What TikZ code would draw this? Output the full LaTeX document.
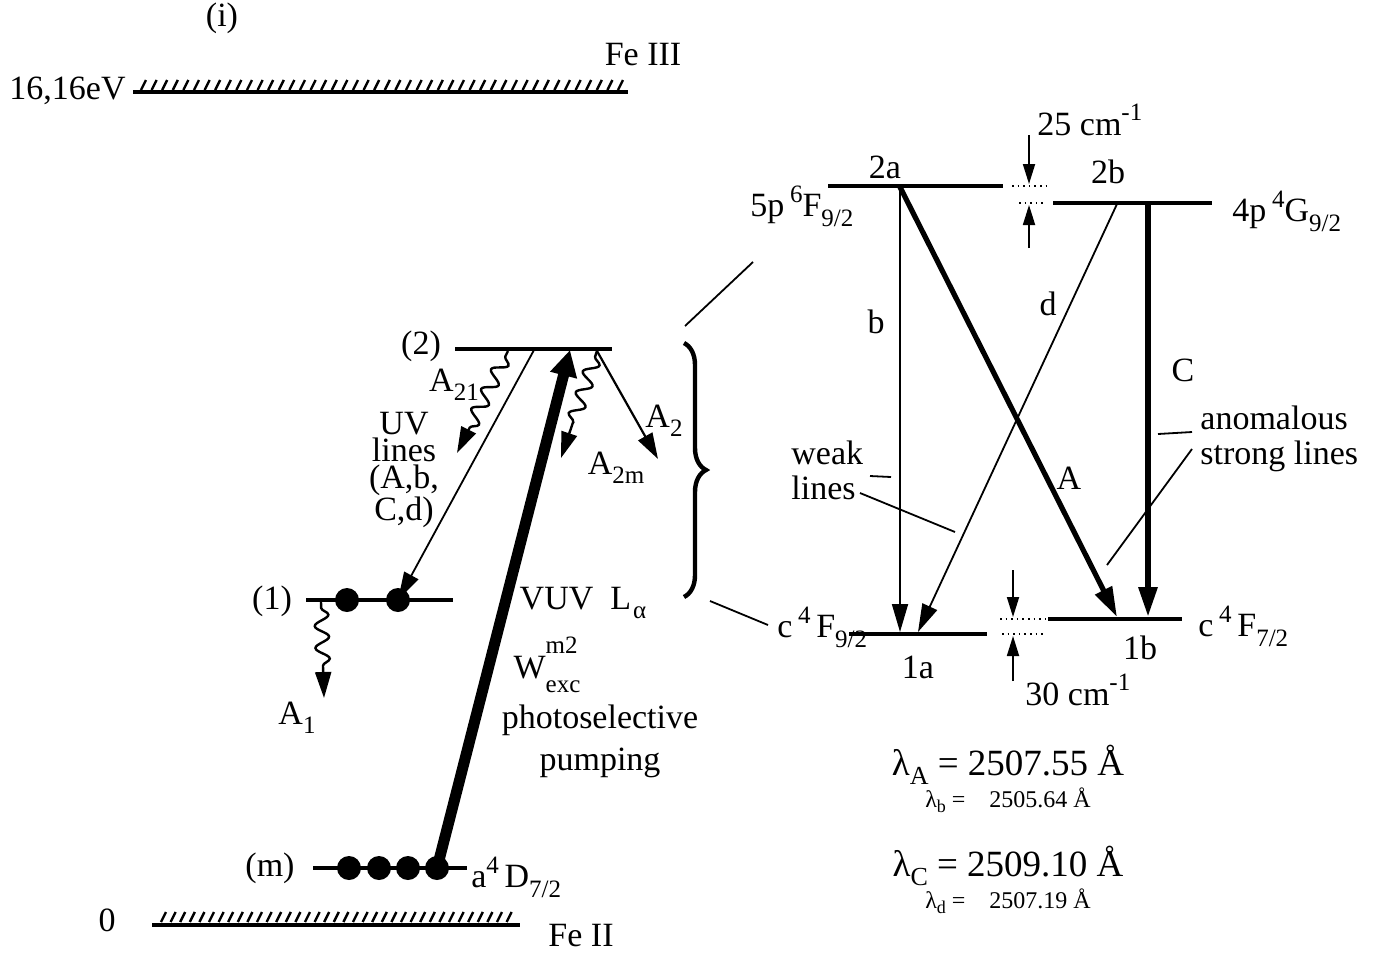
\documentclass[tikz,border=0pt]{standalone}
\usepackage{fontspec}
\setmainfont{Liberation Serif}
\usetikzlibrary{arrows.meta,decorations.pathmorphing,decorations.pathreplacing}
\newcommand\lsub[1]{\raisebox{-0.6ex}{\fontsize{12.5}{12}\selectfont #1}}
\newcommand\lsup[1]{\raisebox{0.95ex}{\fontsize{12.5}{12}\selectfont #1}}
\begin{document}
\begin{tikzpicture}[x=0.5pt,y=-0.5pt,
  lbl/.style={font=\fontsize{17}{13.5}\selectfont, inner sep=0pt},
  big/.style={font=\fontsize{18.5}{18}\selectfont, inner sep=0pt},
  small/.style={font=\fontsize{12}{12}\selectfont, inner sep=0pt},
  level/.style={line width=2pt},
  thinarr/.style={line width=0.9pt, -{Triangle[length=14pt,width=8pt]}},
  thickarr/.style={line width=2.6pt, -{Triangle[length=15pt,width=9pt]}},
  wavy/.style={line width=1.2pt, decorate, decoration={snake, amplitude=3.5pt, segment length=11pt, pre length=3pt, post length=14pt}, -{Triangle[length=13pt,width=8pt]}},
  hatch/.style={line width=1.2pt},
  leader/.style={line width=0.9pt},
  dotted line/.style={line width=0.8pt, dotted},
  pop/.style={circle, fill=black, inner sep=0pt, minimum size=12pt},
]
\useasboundingbox (0,0) rectangle (1391,954);

% ---------- left diagram ----------
\node[lbl] (ion) at (222,18) {(i)};
% Fe III limit
\coordinate (i1) at (133,92); \coordinate (i2) at (628,92);
\draw[level] (i1) -- (i2);
\foreach \x in {141,151.6,...,622} \draw[hatch] (\x,90) -- (\x+5,80);
\node[lbl, anchor=east] (eV) at (126,91) {16,16eV};
\node[lbl] (fe3) at (643,55) {Fe III};

% Fe II ground
\coordinate (g1) at (152,925); \coordinate (g2) at (520,925);
\draw[level] (g1) -- (g2);
\foreach \x in {161,170.6,...,514} \draw[hatch] (\x,922) -- (\x+5,912);
\node[lbl] (zero) at (107,920) {0};
\node[lbl] (fe2) at (581,936) {Fe II};

% level m
\coordinate (m1) at (313,868); \coordinate (m2) at (467,868);
\draw[level] (m1) -- (m2);
\node[lbl] (mlab) at (270,868) {(m)};
\node[pop] (d1) at (349,868) {};
\node[pop] (d2) at (379,868) {};
\node[pop] (d3) at (408,868) {};
\node[pop] (d4) at (437,868) {};
\node[lbl, anchor=west] (aD) at (471,877) {a\lsup{4}\,D\lsub{7/2}};

% level 1
\coordinate (o1) at (306,600); \coordinate (o2) at (453,600);
\draw[level] (o1) -- (o2);
\node[lbl] (onelab) at (272,601) {(1)};
\node[pop] (e1) at (347,600) {};
\node[pop] (e2) at (398,600) {};
\coordinate (a1s) at (321,602); \coordinate (a1e) at (324,698);
\draw[wavy] (a1s) -- (a1e);
\node[lbl] (A1) at (297,718) {A\lsub{1}};

% level 2
\coordinate (t1) at (455,349); \coordinate (t2) at (612,349);
\draw[level] (t1) -- (t2);
\node[lbl] (twolab) at (421,346) {(2)};

% pumping
\coordinate (pumptop) at (570,350);
\draw[line width=5.5pt, -{Triangle[length=13pt,width=13pt]}] (d4.center) -- (pumptop);

% UV lines arrow
\coordinate (uvs) at (534,350);
\draw[thinarr] (uvs) -- (e2.center);

% wavy decays from 2
\coordinate (a21s) at (508,351); \coordinate (a21e) at (457,453);
\draw[wavy] (a21s) -- (a21e);
\coordinate (a2ms) at (597,351); \coordinate (a2me) at (561,458);
\draw[wavy] (a2ms) -- (a2me);
\coordinate (a2s) at (597,351); \coordinate (a2e) at (658,459);
\draw[line width=1.1pt, -{Triangle[length=13pt,width=8pt]}] (a2s) -- (a2e);

\node[lbl] (A21) at (454,385) {A\lsub{21}};
\node[lbl] (A2m) at (616,468) {A\lsub{2m}};
\node[lbl] (A2) at (664,421) {A\lsub{2}};
\node[lbl, align=center] (uv) at (404,470) {UV\\lines\\(A,b,\\C,d)};

\node[lbl] (vuv) at (583,603) {VUV\enspace L\lsub{\kern1pt α}};
\node[lbl] (W) at (547,665) {W\rlap{\raisebox{1.6ex}{\fontsize{12.5}{12}\selectfont m2}}\raisebox{-0.9ex}{\fontsize{12.5}{12}\selectfont exc}};
\node[lbl, align=center] (photo) at (600,741) {photoselective\\[5pt]pumping};

% brace and connecting lines
\coordinate (br1) at (684,343); \coordinate (br2) at (684,597);
\draw[line width=2.2pt, decorate, decoration={brace, amplitude=11pt}] (br1) -- (br2);
\coordinate (c1) at (685,326); \coordinate (c2) at (753,262);
\draw[leader] (c1) -- (c2);
\coordinate (c3) at (710,601); \coordinate (c4) at (768,625);
\draw[leader] (c3) -- (c4);

% ---------- right diagram ----------
\coordinate (L2a1) at (828,186); \coordinate (L2a2) at (1003,186);
\coordinate (L2b1) at (1053,203); \coordinate (L2b2) at (1212,203);
\coordinate (L1a1) at (849,634); \coordinate (L1a2) at (987,634);
\coordinate (L1b1) at (1048,619); \coordinate (L1b2) at (1182,619);
\draw[level] (L2a1) -- (L2a2);
\draw[level] (L2b1) -- (L2b2);
\draw[level] (L1a1) -- (L1a2);
\draw[level] (L1b1) -- (L1b2);

\node[lbl] (l2a) at (885,167) {2a};
\node[lbl] (l2b) at (1108,172) {2b};
\node[lbl] (l1a) at (918,667) {1a};
\node[lbl] (l1b) at (1140,648) {1b};
\node[lbl, anchor=west] (F92u) at (750,206) {5p\,\lsup{6}F\lsub{9/2}};
\node[lbl, anchor=west] (G92) at (1232,211) {4p\,\lsup{4}G\lsub{9/2}};
\node[lbl, anchor=west] (F92l) at (777,627) {c\,\lsup{4}\,F\lsub{9/2}};
\node[lbl, anchor=west] (F72) at (1198,626) {c\,\lsup{4}\,F\lsub{7/2}};

% 25 cm-1 gap
\draw[dotted line] (1012,186) -- (1046,186);
\draw[dotted line] (1019,203) -- (1046,203);
\coordinate (g25a) at (1029,135); \coordinate (g25b) at (1029,184);
\coordinate (g25c) at (1029,248); \coordinate (g25d) at (1029,205);
\draw[thinarr, -{Triangle[length=10pt,width=6pt]}] (g25a) -- (g25b);
\draw[thinarr, -{Triangle[length=10pt,width=6pt]}] (g25c) -- (g25d);
\node[lbl, anchor=west] (cm25) at (1037,120) {25 cm\lsup{-1}};

% 30 cm-1 gap
\draw[dotted line] (1000,619) -- (1046,619);
\draw[dotted line] (1002,634) -- (1046,634);
\coordinate (g30a) at (1013,570); \coordinate (g30b) at (1013,617);
\coordinate (g30c) at (1013,681); \coordinate (g30d) at (1013,636);
\draw[thinarr, -{Triangle[length=10pt,width=6pt]}] (g30a) -- (g30b);
\draw[thinarr, -{Triangle[length=10pt,width=6pt]}] (g30c) -- (g30d);
\node[lbl, anchor=west] (cm30) at (1025,690) {30 cm\lsup{-1}};

% transitions
\coordinate (s2a) at (900,187); \coordinate (s2b) at (1117,204);
\coordinate (sC) at (1148,204);
\coordinate (e1a) at (900,632); \coordinate (e1ad) at (918,632);
\coordinate (e1b) at (1117,617); \coordinate (e1bC) at (1148,617);
\draw[thinarr] (s2a) -- (e1a);
\draw[thickarr] (s2a) -- (e1b);
\draw[thinarr] (s2b) -- (e1ad);
\draw[line width=3pt, -{Triangle[length=15pt,width=9pt]}] (sC) -- (e1bC);
\node[lbl] (lb) at (876,322) {b};
\node[lbl] (ld) at (1048,304) {d};
\node[lbl] (lC) at (1183,370) {C};
\node[lbl] (lA) at (1069,478) {A};

% weak / strong lines labels
\node[lbl, align=left, anchor=west] (weak) at (791,470) {weak\\[4pt]lines};
\coordinate (w1) at (870,476); \coordinate (w2) at (891,477);
\draw[leader] (w1) -- (w2);
\coordinate (w3) at (860,493); \coordinate (w4) at (955,532);
\draw[leader] (w3) -- (w4);
\node[lbl, align=left, anchor=west] (strong) at (1200,439) {anomalous\\[4pt]strong lines};
\coordinate (s1) at (1158,434); \coordinate (s2) at (1192,432);
\draw[leader] (s1) -- (s2);
\coordinate (s3) at (1192,449); \coordinate (s4) at (1107,565);
\draw[leader] (s3) -- (s4);

% wavelengths
\node[big] (lamA) at (1008,765) {λ\raisebox{-0.5ex}{\fontsize{13}{13}\selectfont A} = 2507.55 Å};
\node[small] (lamb) at (1008,800) {λ\raisebox{-0.5ex}{\fontsize{9}{9}\selectfont b} =\quad 2505.64 Å};
\node[big] (lamC) at (1008,866) {λ\raisebox{-0.5ex}{\fontsize{13}{13}\selectfont C} = 2509.10 Å};
\node[small] (lamd) at (1008,901) {λ\raisebox{-0.5ex}{\fontsize{9}{9}\selectfont d} =\quad 2507.19 Å};
\end{tikzpicture}
\end{document}
